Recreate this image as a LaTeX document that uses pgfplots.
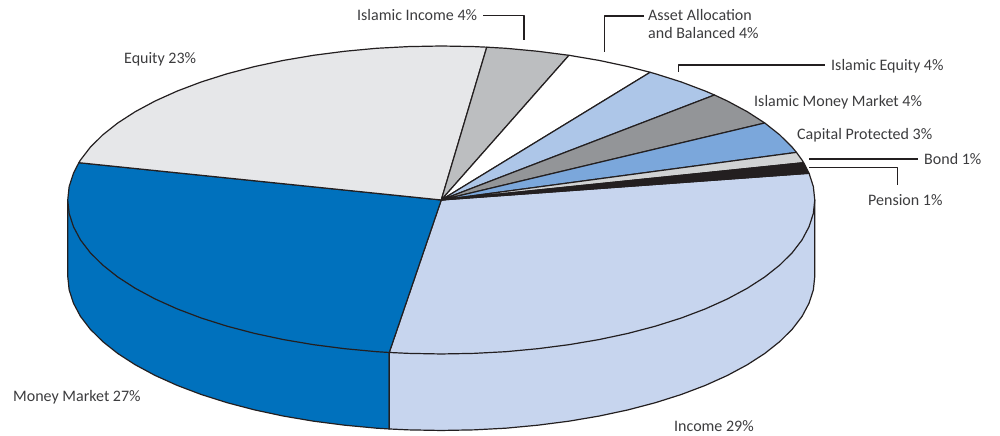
\documentclass[border=0pt]{standalone}
\usepackage{fontspec}
\setmainfont{Carlito}
\usepackage{pgfplots}
\pgfplotsset{compat=1.18}
\definecolor{cEquity}{HTML}{E6E7E9}
\definecolor{cIslInc}{HTML}{BCBEC0}
\definecolor{cIslEq}{HTML}{ADC6E8}
\definecolor{cIslMM}{HTML}{939598}
\definecolor{cCap}{HTML}{7BA7DB}
\definecolor{cBond}{HTML}{D1D3D4}
\definecolor{cPen}{HTML}{231F20}
\definecolor{cInc}{HTML}{C7D5EE}
\definecolor{cMon}{HTML}{0071BD}
\definecolor{cTxt}{HTML}{3C3C3E}
\newcommand{\lab}[3]{\node[anchor=base west,inner sep=0pt,text=cTxt,font=\fontsize{16}{18}\selectfont] at (axis cs:#1-441.25,199-#2) {#3};}
\begin{document}
\begin{tikzpicture}
\begin{axis}[name=a,scale only axis,width=1000pt,height=436pt,hide axis,
  xmin=-441.25,xmax=558.75,ymin=-236,ymax=200,clip=false]
\pgfplotsset{every axis plot/.append style={draw=cPen,line width=1.2pt,line join=round}}
% sides
\addplot[fill=cMon] coordinates {(-373.5,0)(-373.5,-76.5)(-372.1,-89.9)(-367.8,-103.2)(-360.8,-116.4)(-351,-129.2)(-338.5,-141.6)(-323.5,-153.5)(-306,-164.8)(-286.1,-175.5)(-264.1,-185.4)(-240.1,-194.5)(-214.2,-202.7)(-186.8,-209.9)(-157.8,-216.1)(-127.7,-221.2)(-96.7,-225.2)(-64.8,-228.2)(-52,-229)(-52,-152.5)(0,0)} -- cycle;
\addplot[fill=cInc] coordinates {(-52,-152.5)(-52,-229)(-32.6,-229.9)(0,-230.5)(32.6,-229.9)(64.8,-228.2)(96.7,-225.2)(127.7,-221.2)(157.8,-216.1)(186.8,-209.9)(214.2,-202.7)(240.1,-194.5)(264.1,-185.4)(286.1,-175.5)(306,-164.8)(323.5,-153.5)(338.5,-141.6)(351,-129.2)(360.8,-116.4)(367.8,-103.2)(372.1,-89.9)(373.5,-76.5)(373.5,0)(0,0)} -- cycle;
% top faces
\addplot[fill=cInc] coordinates {(0,0)(-52,-152.5)(-32.6,-153.4)(0,-154)(32.6,-153.4)(64.8,-151.7)(96.7,-148.7)(127.7,-144.7)(157.8,-139.6)(186.8,-133.4)(214.2,-126.2)(240.1,-118)(264.1,-108.9)(286.1,-99)(306,-88.3)(323.5,-77)(338.5,-65.1)(351,-52.7)(360.8,-39.9)(367.8,-26.7)(372.1,-13.4)(373.5,0)(372.1,13.4)(367.8,26.7)} -- cycle;
\addplot[fill=cMon] coordinates {(0,0)(-362.4,37.3)(-367.8,26.7)(-372.1,13.4)(-373.5,0)(-372.1,-13.4)(-367.8,-26.7)(-360.8,-39.9)(-351,-52.7)(-338.5,-65.1)(-323.5,-77)(-306,-88.3)(-286.1,-99)(-264.1,-108.9)(-240.1,-118)(-214.2,-126.2)(-186.8,-133.4)(-157.8,-139.6)(-127.7,-144.7)(-96.7,-148.7)(-64.8,-151.7)(-52,-152.5)} -- cycle;
\addplot[fill=cEquity] coordinates {(0,0)(45.5,152.8)(32.6,153.4)(0,154)(-32.6,153.4)(-64.8,151.7)(-96.7,148.7)(-127.7,144.7)(-157.8,139.6)(-186.8,133.4)(-214.2,126.2)(-240.1,118)(-264.1,108.9)(-286.1,99)(-306,88.3)(-323.5,77)(-338.5,65.1)(-351,52.7)(-360.8,39.9)(-362.4,37.3)} -- cycle;
\addplot[fill=cIslInc] coordinates {(0,0)(127.7,144.7)(96.7,148.7)(64.8,151.7)(45.5,152.8)} -- cycle;
\addplot[fill=white] coordinates {(0,0)(208.9,127.7)(186.8,133.4)(157.8,139.6)(127.7,144.7)} -- cycle;
\addplot[fill=cIslEq] coordinates {(0,0)(273.2,105)(264.1,108.9)(240.1,118)(214.2,126.2)(208.9,127.7)} -- cycle;
\addplot[fill=cIslMM] coordinates {(0,0)(323.5,77)(306,88.3)(286.1,99)(273.2,105)} -- cycle;
\addplot[fill=cCap] coordinates {(0,0)(355.2,47.6)(351,52.7)(338.5,65.1)(323.5,77)} -- cycle;
\addplot[fill=cBond] coordinates {(0,0)(362.4,37.3)(360.8,39.9)(355.2,47.6)} -- cycle;
\addplot[fill=cPen] coordinates {(0,0)(367.8,26.7)(362.4,37.3)} -- cycle;
% leader lines (x-441.25, 200-y)
\addplot[no marks] coordinates {(41.75,184.5)(82.75,184.5)(82.75,159.5)};
\addplot[no marks] coordinates {(202.75,184)(163.25,184)(163.25,148)};
\addplot[no marks] coordinates {(237.25,128)(237.25,135)(383.75,135)};
\addplot[no marks] coordinates {(367.75,41)(476.75,41)};
\addplot[no marks] coordinates {(367.75,32.5)(456.25,32.5)(456.25,15)};
% labels
\lab{357}{20}{Islamic Income 4\%}
\lab{648}{20}{Asset Allocation}
\lab{648}{38}{and Balanced 4\%}
\lab{831}{70}{Islamic Equity 4\%}
\lab{754}{106}{Islamic Money Market 4\%}
\lab{797}{139}{Capital Protected 3\%}
\lab{924}{164}{Bond 1\%}
\lab{868}{205}{Pension 1\%}
\lab{124}{63}{Equity 23\%}
\lab{13}{401}{Money Market 27\%}
\lab{674}{431}{Income 29\%}
\end{axis}
\path (a.south west) rectangle (a.north east);
\end{tikzpicture}
\end{document}
